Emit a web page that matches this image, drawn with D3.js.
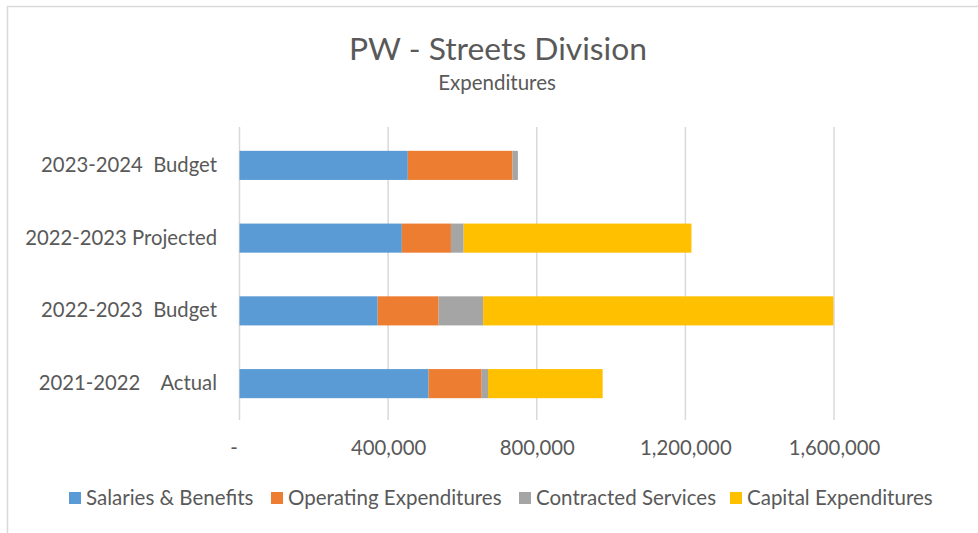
<!DOCTYPE html>
<html>
<head>
<meta charset="utf-8">
<script src="https://cdn.jsdelivr.net/npm/d3@7/dist/d3.min.js"></script>
<style>
  html, body { margin: 0; padding: 0; background: #fff; }
  svg { display: block; }
  text { font-family: Lato, "Open Sans", sans-serif; fill: #595959; }
</style>
</head>
<body>
<svg id="chart" width="978" height="533"></svg>
<script>
const categories = ["2021-2022    Actual", "2022-2023  Budget", "2022-2023 Projected", "2023-2024  Budget"];
const seriesNames = ["Salaries & Benefits", "Operating Expenditures", "Contracted Services", "Capital Expenditures"];
const salaries   = [508900, 371900, 436900, 453000];
const operating  = [142900, 164000, 132150, 281750];
const contracted = [17000, 119700, 34250, 14500];
const capital    = [308500, 942800, 613000, 0];
const tickValues = [0, 400000, 800000, 1200000, 1600000];
const tickLabels = ["-", "400,000", "800,000", "1,200,000", "1,600,000"];
const colors = ["#5B9BD5", "#ED7D31", "#A5A5A5", "#FFC000"];

const svg = d3.select("#chart");
const FONT = "Lato, 'Open Sans', sans-serif";

// chart border
svg.append("rect").attr("x", 7.5).attr("y", 6.5).attr("width", 1000).attr("height", 600)
  .attr("fill", "none").attr("stroke", "#d9d9d9").attr("stroke-width", 1.5);

const plot = { left: 239.5, right: 834, top: 127, bottom: 420 };

const x = d3.scaleLinear().domain([0, 1600000]).range([plot.left, plot.right]);
const y = d3.scaleBand().domain(categories.slice().reverse()).range([plot.top + 2, plot.bottom]).paddingInner(0.6).paddingOuter(0.3);

// gridlines
svg.append("g").selectAll("line").data(tickValues).join("line")
  .attr("x1", d => x(d)).attr("x2", d => x(d))
  .attr("y1", plot.top).attr("y2", plot.bottom)
  .attr("stroke", "#d9d9d9").attr("stroke-width", 1.5);

// data table
const rows = categories.map((c, i) => ({
  cat: c,
  [seriesNames[0]]: salaries[i],
  [seriesNames[1]]: operating[i],
  [seriesNames[2]]: contracted[i],
  [seriesNames[3]]: capital[i]
}));
const stacked = d3.stack().keys(seriesNames)(rows);

svg.append("g").selectAll("g").data(stacked).join("g")
  .attr("fill", (d, i) => colors[i])
  .selectAll("rect").data(d => d).join("rect")
  .attr("x", d => x(d[0]))
  .attr("width", d => Math.max(0, x(d[1]) - x(d[0])))
  .attr("y", d => y(d.data.cat))
  .attr("height", y.bandwidth());

// x axis labels
const xAxis = d3.axisBottom(x).tickValues(tickValues).tickFormat((d, i) => tickLabels[i]).tickSize(0).tickPadding(0);
const gx = svg.append("g").attr("transform", `translate(0, ${plot.bottom + 21})`).call(xAxis);
gx.select(".domain").remove();
gx.selectAll("text").attr("font-size", 20.3).attr("fill", "#595959").attr("font-family", FONT).attr("dy", "0.7em")
  .attr("dx", (d, i) => i === 0 ? -6 : 0);

// y axis labels
const yAxis = d3.axisLeft(y).tickSize(0).tickPadding(0);
const gy = svg.append("g").attr("transform", `translate(217, 0)`).call(yAxis);
gy.select(".domain").remove();
gy.selectAll("text").attr("font-size", 20.3).attr("fill", "#595959").attr("font-family", FONT).style("white-space", "pre").attr("xml:space", "preserve");

// titles
svg.append("text").attr("x", 498).attr("y", 60).attr("text-anchor", "middle").attr("font-size", 31.8).text("PW - Streets Division");
svg.append("text").attr("x", 497).attr("y", 90).attr("text-anchor", "middle").attr("font-size", 20.5).text("Expenditures");

// legend
const legendX = [69, 271, 519, 730];
const lg = svg.append("g").selectAll("g").data(seriesNames).join("g")
  .attr("transform", (d, i) => `translate(${legendX[i]}, 498)`);
lg.append("rect").attr("x", 0).attr("y", -6).attr("width", 12).attr("height", 12).attr("fill", (d, i) => colors[i]);
lg.append("text").attr("x", 17).attr("y", 0).attr("dy", "0.35em").attr("font-size", 20.5).text(d => d);
</script>
</body>
</html>
